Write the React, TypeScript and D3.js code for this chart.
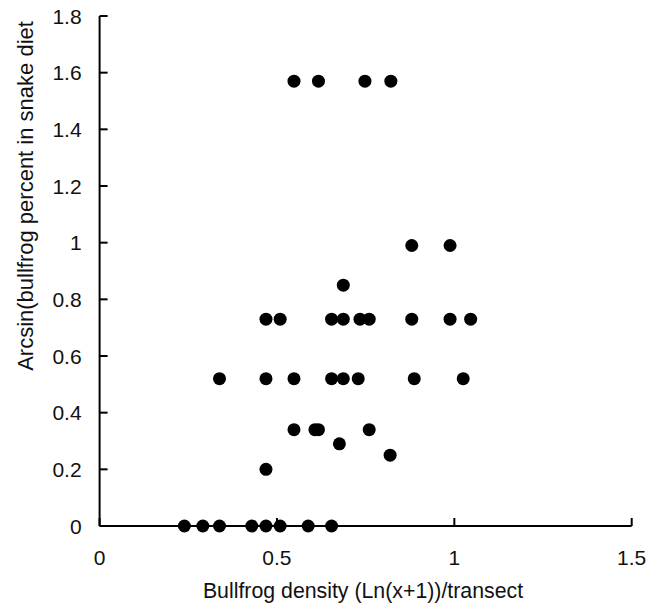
import React from "react";
import * as d3 from "d3";

const xTicks = [0, 0.5, 1, 1.5];
const yTicks = [0, 0.2, 0.4, 0.6, 0.8, 1, 1.2, 1.4, 1.6, 1.8];

const densityX = [
  0.548, 0.617, 0.748, 0.821,
  0.880, 0.988,
  0.687,
  0.469, 0.509, 0.654, 0.687, 0.734, 0.760, 0.880, 0.988, 1.046,
  0.338, 0.469, 0.548, 0.654, 0.687, 0.729, 0.887, 1.025,
  0.548, 0.607, 0.617, 0.760,
  0.676,
  0.819,
  0.469,
  0.239, 0.291, 0.338, 0.429, 0.469, 0.509, 0.588, 0.654,
];
const dietY = [
  1.57, 1.57, 1.57, 1.57,
  0.99, 0.99,
  0.85,
  0.73, 0.73, 0.73, 0.73, 0.73, 0.73, 0.73, 0.73, 0.73,
  0.52, 0.52, 0.52, 0.52, 0.52, 0.52, 0.52, 0.52,
  0.34, 0.34, 0.34, 0.34,
  0.29,
  0.25,
  0.2,
  0, 0, 0, 0, 0, 0, 0, 0,
];

const xTitle = "Bullfrog density (Ln(x+1))/transect";
const yTitle = "Arcsin(bullfrog percent in snake diet";

const W = 658;
const H = 609;
const FONT = "'Liberation Sans', Arial, sans-serif";

export default function App() {
  const x = d3.scaleLinear().domain([0, 1.5]).range([99.6, 631.7]);
  const y = d3.scaleLinear().domain([0, 1.8]).range([526, 16]);
  const fmt = (v: number) => String(Math.round(v * 10) / 10);

  return (
    <svg
      width={W}
      height={H}
      style={{ position: "absolute", left: 0, top: 0, background: "#fff" }}
      fontFamily={FONT}
    >
      <rect x={0} y={0} width={W} height={H} fill="#fff" />
      {/* axes */}
      <line x1={x(0)} x2={x(0)} y1={y(0)} y2={y(1.8)} stroke="#000" strokeWidth={2} />
      <line x1={x(0)} x2={x(1.5)} y1={y(0)} y2={y(0)} stroke="#000" strokeWidth={2} />
      {yTicks.map((t) => (
        <g key={"y" + t}>
          <line x1={x(0)} x2={x(0) + 8} y1={y(t)} y2={y(t)} stroke="#000" strokeWidth={2} />
          <text
            x={x(0) - 18}
            y={y(t)}
            dy="0.36em"
            textAnchor="end"
            fontSize={21}
            fill="#111"
          >
            {fmt(t)}
          </text>
        </g>
      ))}
      {xTicks.map((t) => (
        <g key={"x" + t}>
          <line x1={x(t)} x2={x(t)} y1={y(0)} y2={y(0) - 8} stroke="#000" strokeWidth={2} />
          <text x={x(t)} y={565} textAnchor="middle" fontSize={21} fill="#111">
            {fmt(t)}
          </text>
        </g>
      ))}
      {/* points */}
      {densityX.map((dx, i) => (
        <circle key={i} cx={x(dx)} cy={y(dietY[i])} r={6.5} fill="#000" />
      ))}
      {/* titles */}
      <text x={363} y={598} textAnchor="middle" fontSize={21.3} fill="#111">
        {xTitle}
      </text>
      <text
        transform={`translate(33, 196) rotate(-90)`}
        textAnchor="middle"
        fontSize={22}
        fill="#111"
      >
        {yTitle}
      </text>
    </svg>
  );
}
